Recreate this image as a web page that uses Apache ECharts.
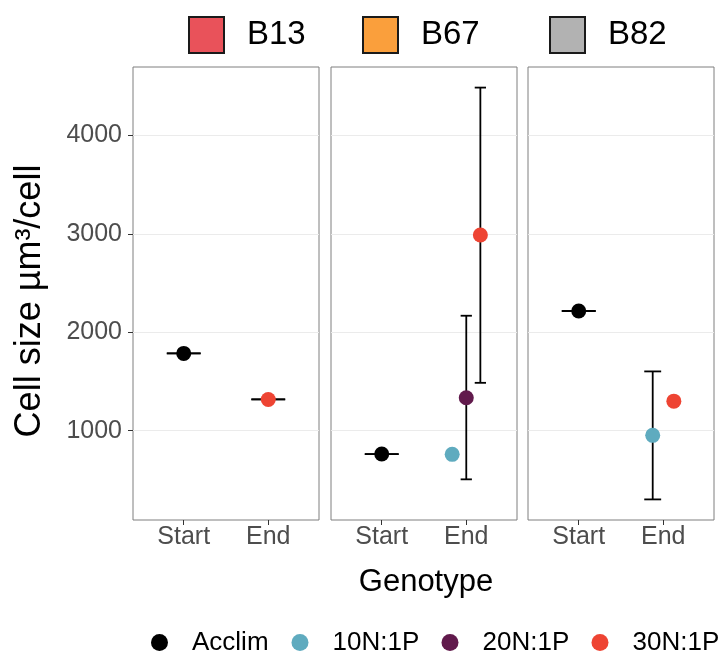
<!DOCTYPE html>
<html>
<head>
<meta charset="utf-8">
<script src="https://cdn.jsdelivr.net/npm/echarts@6/dist/echarts.min.js"></script>
<style>
  html, body { margin: 0; padding: 0; background: #ffffff; }
  #chart { width: 720px; height: 652px; }
</style>
</head>
<body>
<div id="chart"></div>
<script>
// ---------------- data ----------------
const panels = ['B13', 'B67', 'B82'];
const times = ['Start', 'End'];
const treatments = ['Acclim', '10N:1P', '20N:1P', '30N:1P'];
const treatmentTime = [0, 1, 1, 1];           // index into times
const treatmentColors = ['#000000', '#5FABBF', '#611A4C', '#EE4433'];
const strainColors = ['#E9525A', '#FA9F3C', '#B2B2B2'];
const yTicks = [1000, 2000, 3000, 4000];

// values per panel (B13, B67, B82); null = no observation
const acclimMean = [1786, 763, 2217];
const acclimLow  = [1786, 763, 2217];
const acclimHigh = [1786, 763, 2217];

const n10Mean = [null, 760, 953];
const n10Low  = [null, null, 302];
const n10High = [null, null, 1603];

const n20Mean = [null, 1335, null];
const n20Low  = [null, 506, null];
const n20High = [null, 2169, null];

const n30Mean = [1318, 2990, 1301];
const n30Low  = [1318, 1487, null];
const n30High = [1318, 4488, null];

// ---------------- build ----------------
const means = [acclimMean, n10Mean, n20Mean, n30Mean];
const lows  = [acclimLow, n10Low, n20Low, n30Low];
const highs = [acclimHigh, n10High, n20High, n30High];

const FONT = "'Liberation Sans', Arial, Helvetica, sans-serif";
const DODGE = 0.5, BAR_W = 0.4;

// y range like ggplot (5% expansion of data range)
let all = [];
for (let t = 0; t < treatments.length; t++) {
  [means[t], lows[t], highs[t]].forEach(a => a.forEach(v => { if (v != null) all.push(v); }));
}
const dMin = Math.min(...all), dMax = Math.max(...all);
const yMin = dMin - 0.05 * (dMax - dMin);
const yMax = dMax + 0.05 * (dMax - dMin);

const gridLeft = [133, 331, 528];
const gridW = 186;
const grids = [], xAxes = [], yAxes = [], series = [];

for (let p = 0; p < panels.length; p++) {
  grids.push({
    left: gridLeft[p], top: 67, width: gridW, height: 453,
    show: true, borderColor: '#7f7f7f', borderWidth: 1, backgroundColor: '#ffffff'
  });
  xAxes.push({
    gridIndex: p, type: 'value', min: 0.4, max: 2.6,
    axisLine: { show: false }, splitLine: { show: false },
    axisTick: { show: true, customValues: [1, 2], length: 5, lineStyle: { color: '#333333', width: 1 } },
    axisLabel: {
      show: true, customValues: [1, 2], margin: 5,
      formatter: v => times[Math.round(v) - 1],
      fontFamily: FONT, fontSize: 25, color: '#4d4d4d'
    }
  });
  yAxes.push({
    gridIndex: p, type: 'value', min: yMin, max: yMax,
    axisLine: { show: false }, splitLine: { show: false },
    axisTick: { show: p === 0, customValues: yTicks, length: 5, lineStyle: { color: '#333333', width: 1 } },
    axisLabel: {
      show: p === 0, customValues: yTicks, margin: 11,
      formatter: v => String(Math.round(v)),
      fontFamily: FONT, fontSize: 25, color: '#4d4d4d'
    }
  });

  // dodge positions within each time slot
  const errData = [];
  for (let ti = 0; ti < times.length; ti++) {
    const present = [];
    for (let t = 0; t < treatments.length; t++) {
      if (treatmentTime[t] === ti && means[t][p] != null) present.push(t);
    }
    const n = present.length;
    present.forEach((t, k) => {
      const x = (ti + 1) - DODGE / 2 + DODGE / (2 * n) + k * DODGE / n;
      series.push({
        type: 'scatter', name: treatments[t], xAxisIndex: p, yAxisIndex: p,
        data: [[x, means[t][p]]], symbol: 'circle', symbolSize: 15,
        itemStyle: { color: treatmentColors[t], opacity: 1 }, z: 3, silent: true
      });
      if (lows[t][p] != null && highs[t][p] != null) {
        errData.push([x, lows[t][p], highs[t][p], BAR_W / (2 * n)]);
      }
    });
  }

  series.push({
    type: 'custom', name: 'errorbars-' + panels[p], xAxisIndex: p, yAxisIndex: p,
    data: errData, encode: { x: 0, y: [1, 2] }, z: 2, silent: true,
    renderItem: function (params, api) {
      const x = api.value(0), lo = api.value(1), hi = api.value(2), hw = api.value(3);
      const pLo = api.coord([x, lo]), pHi = api.coord([x, hi]);
      const xl = api.coord([x - hw, lo])[0], xr = api.coord([x + hw, lo])[0];
      const st = { stroke: '#000000', lineWidth: 1.8 };
      return {
        type: 'group', children: [
          { type: 'line', shape: { x1: pLo[0], y1: pLo[1], x2: pHi[0], y2: pHi[1] }, style: st },
          { type: 'line', shape: { x1: xl, y1: pLo[1], x2: xr, y2: pLo[1] }, style: st },
          { type: 'line', shape: { x1: xl, y1: pHi[1], x2: xr, y2: pHi[1] }, style: st }
        ]
      };
    },
    markLine: {
      silent: true, z: 1, symbol: ['none', 'none'], label: { show: false },
      lineStyle: { color: '#ebebeb', width: 1, type: 'solid' },
      emphasis: { disabled: true },
      data: yTicks.map(v => ({ yAxis: v }))
    }
  });
}

// strain key series (legend only)
for (let s = 0; s < panels.length; s++) {
  series.push({
    type: 'scatter', name: panels[s], xAxisIndex: s, yAxisIndex: s, data: [],
    itemStyle: { color: strainColors[s], opacity: 1 }
  });
}

const legends = [];
const topLeft = [188, 362, 549];
for (let s = 0; s < panels.length; s++) {
  legends.push({
    data: [panels[s]], left: topLeft[s], top: 16, padding: 0, selectedMode: false,
    icon: 'rect', itemWidth: 35, itemHeight: 36,
    itemStyle: { borderColor: '#1a1a1a', borderWidth: 2, opacity: 1 },
    textStyle: { fontFamily: FONT, fontSize: 33, color: '#000000', padding: [0, 0, 0, 18] }
  });
}
const botLeft = [151, 291.5, 441.5, 591.5];
for (let t = 0; t < treatments.length; t++) {
  legends.push({
    data: [treatments[t]], left: botLeft[t], top: 629.5, padding: 0, selectedMode: false,
    icon: 'circle', itemWidth: 17, itemHeight: 17,
    itemStyle: { opacity: 1 },
    textStyle: { fontFamily: FONT, fontSize: 26, color: '#000000', padding: [0, 0, 0, 19] }
  });
}

const chart = echarts.init(document.getElementById('chart'), null, { renderer: 'canvas' });
chart.setOption({
  backgroundColor: '#ffffff',
  animation: false,
  grid: grids, xAxis: xAxes, yAxis: yAxes, series: series, legend: legends,
  graphic: [
    {
      type: 'text', x: 30, y: 301, rotation: Math.PI / 2,
      style: { text: 'Cell size µm³/cell', fontFamily: FONT, fontSize: 36, fill: '#000000',
               align: 'center', verticalAlign: 'middle' }
    },
    {
      type: 'text', x: 426, y: 582,
      style: { text: 'Genotype', fontFamily: FONT, fontSize: 31, fill: '#000000',
               align: 'center', verticalAlign: 'middle' }
    }
  ]
});
</script>
</body>
</html>
